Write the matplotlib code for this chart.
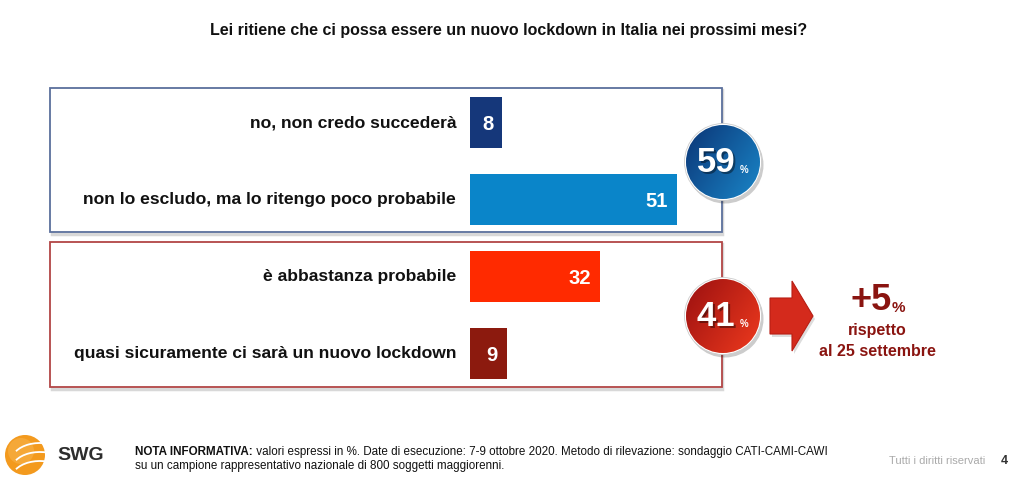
import numpy as np
import matplotlib
matplotlib.use('Agg')
import matplotlib.pyplot as plt
from matplotlib.patches import Rectangle, Circle, Polygon, Arc
from matplotlib import font_manager

# data
labels = ['no, non credo succederà',
          'non lo escludo, ma lo ritengo poco probabile',
          'è abbastanza probabile',
          'quasi sicuramente ci sarà un nuovo lockdown']
values = [8, 51, 32, 9]
bar_colors = ['#15377a', '#0a85c9', '#ff2a00', '#8c1a0e']
group_totals = [59, 41]
change_label = '+5'
change_note = ['rispetto', 'al 25 settembre']
title = 'Lei ritiene che ci possa essere un nuovo lockdown in Italia nei prossimi mesi?'
note_bold = 'NOTA INFORMATIVA:'
note_line1 = ' valori espressi in %. Date di esecuzione: 7-9 ottobre 2020. Metodo di rilevazione: sondaggio CATI-CAMI-CAWI'
note_line2 = 'su un campione rappresentativo nazionale di 800 soggetti maggiorenni.'

names = {f.name for f in font_manager.fontManager.ttflist}
narrow = 'Liberation Sans Narrow' if 'Liberation Sans Narrow' in names else 'Liberation Sans'
lab_size = 14.5 if narrow == 'Liberation Sans Narrow' else 12.6
plt.rcParams['font.family'] = ['Liberation Sans', 'DejaVu Sans']

W, H = 1019, 482
fig = plt.figure(figsize=(W / 100, H / 100), dpi=100)
bg = fig.add_axes([0, 0, 1, 1])
bg.set_xlim(0, W)
bg.set_ylim(H, 0)
bg.axis('off')

# title
bg.text(509, 31, title, ha='center', va='center', fontsize=11.5, fontweight='bold', color='#111111')

# group boxes
for y0, y1, ec in [(88, 232, '#5b6f9c'), (242, 387, '#b24545')]:
    bg.add_patch(Rectangle((52, y0 + 2), 670, y1 - y0, fill=False, ec='#d8d8d8', lw=2.5, zorder=1))
    bg.add_patch(Rectangle((50, y0), 672, y1 - y0, fc='white', ec=ec, lw=1.3, zorder=2))

# bars, on their own axes
px_per_unit = 4.06
x_left, x_max = 470, 60
ax = fig.add_axes([x_left / W, (H - 392) / H, x_max * px_per_unit / W, 308 / H])
ax.set_xlim(0, x_max)
ax.set_ylim(3.5, -0.5)
ax.axis('off')
ypos = np.arange(len(values))
ax.barh(ypos, values, height=0.66, color=bar_colors, zorder=3)
for i, (lab, v) in enumerate(zip(labels, values)):
    ax.text(-3.4, i, lab, ha='right', va='center', fontsize=lab_size, fontweight='bold',
            family=[narrow, 'DejaVu Sans'], color='#111111', clip_on=False)
    ax.text(v - 2.3, i + 0.02, str(v), ha='right', va='center', fontsize=14.5, fontweight='bold',
            family=[narrow, 'DejaVu Sans'], color='white', clip_on=False)


def gradient_circle(cx, cy, r, c_dark, c_light):
    bg.add_patch(Circle((cx + 2, cy + 3), r + 1.5, fc='#00000033', ec='none', zorder=4))
    bg.add_patch(Circle((cx, cy), r + 1.5, fc='white', ec='#cccccc', lw=0.6, zorder=5))
    n = 100
    xx, yy = np.meshgrid(np.linspace(0, 1, n), np.linspace(0, 1, n))
    t = np.clip((xx * 0.6 + yy * 0.4), 0, 1)
    c0 = np.array(matplotlib.colors.to_rgb(c_dark))
    c1 = np.array(matplotlib.colors.to_rgb(c_light))
    img = c0[None, None, :] * (1 - t[..., None]) + c1[None, None, :] * t[..., None]
    im = bg.imshow(img, extent=(cx - r, cx + r, cy + r, cy - r), zorder=6, interpolation='bilinear')
    clip = Circle((cx, cy), r, transform=bg.transData)
    im.set_clip_path(clip)
    bg.set_xlim(0, W)
    bg.set_ylim(H, 0)


gradient_circle(723, 162, 37, '#0b3576', '#1a86c8')
gradient_circle(723, 316, 37, '#9b1010', '#ee3a1e')
for cy, tot in zip([162, 316], group_totals):
    bg.text(718, cy + 2, str(tot), ha='center', va='center', fontsize=25, fontweight='bold',
            family=[narrow, 'DejaVu Sans'], color='#00000066', zorder=7)
    bg.text(716, cy, str(tot), ha='center', va='center', fontsize=25, fontweight='bold',
            family=[narrow, 'DejaVu Sans'], color='white', zorder=8)
    bg.text(744, cy + 8, '%', ha='center', va='center', fontsize=7, fontweight='bold',
            color='white', zorder=8)

# arrow
arrow = [(770, 298), (792, 298), (792, 281), (813, 316), (792, 351), (792, 334), (770, 334)]
bg.add_patch(Polygon([(x + 2, y + 3) for x, y in arrow], fc='#00000022', ec='none', zorder=3))
bg.add_patch(Polygon(arrow, fc='#d42a1c', ec='#b81e14', lw=0.8, zorder=4))

bg.text(892, 301, change_label, ha='right', va='center', fontsize=26, fontweight='bold', color='#8a1410')
bg.text(892, 308, '%', ha='left', va='center', fontsize=11, fontweight='bold', color='#8a1410')
bg.text(877, 331, change_note[0], ha='center', va='center', fontsize=11.5, fontweight='bold', color='#8a1410')
bg.text(877, 351, change_note[1], ha='center', va='center', fontsize=11.5, fontweight='bold', color='#8a1410')

# footer logo
bg.add_patch(Circle((25, 455), 20, fc='#f39a1e', ec='none', zorder=3))
bg.add_patch(Circle((21, 451), 13, fc='#f7b24a', ec='none', alpha=0.6, zorder=3))
for dy in [-9, 0, 9]:
    bg.add_patch(Arc((40, 455 + dy + 14), 56, 34, theta1=200, theta2=290, ec='white', lw=1.3, zorder=4))
bg.text(57, 456, 'SWG', ha='left', va='center', fontsize=14, fontweight='bold', color='#2d2d2d')

t1 = bg.text(135, 452, note_bold, ha='left', va='center', fontsize=8.4, fontweight='bold',
             family=[narrow, 'DejaVu Sans'], color='#111111')
fig.canvas.draw()
bb = t1.get_window_extent(fig.canvas.get_renderer())
bg.text(135 + bb.width, 452, note_line1, ha='left', va='center', fontsize=8.4,
        family=[narrow, 'DejaVu Sans'], color='#111111')
bg.text(135, 466, note_line2, ha='left', va='center', fontsize=8.4,
        family=[narrow, 'DejaVu Sans'], color='#111111')
bg.text(985, 461, 'Tutti i diritti riservati', ha='right', va='center', fontsize=8,
        family=[narrow, 'DejaVu Sans'], color='#aaaaaa')
bg.text(1004, 461, '4', ha='center', va='center', fontsize=9, fontweight='bold', color='#333333')

fig.savefig('out.png', dpi=100)
